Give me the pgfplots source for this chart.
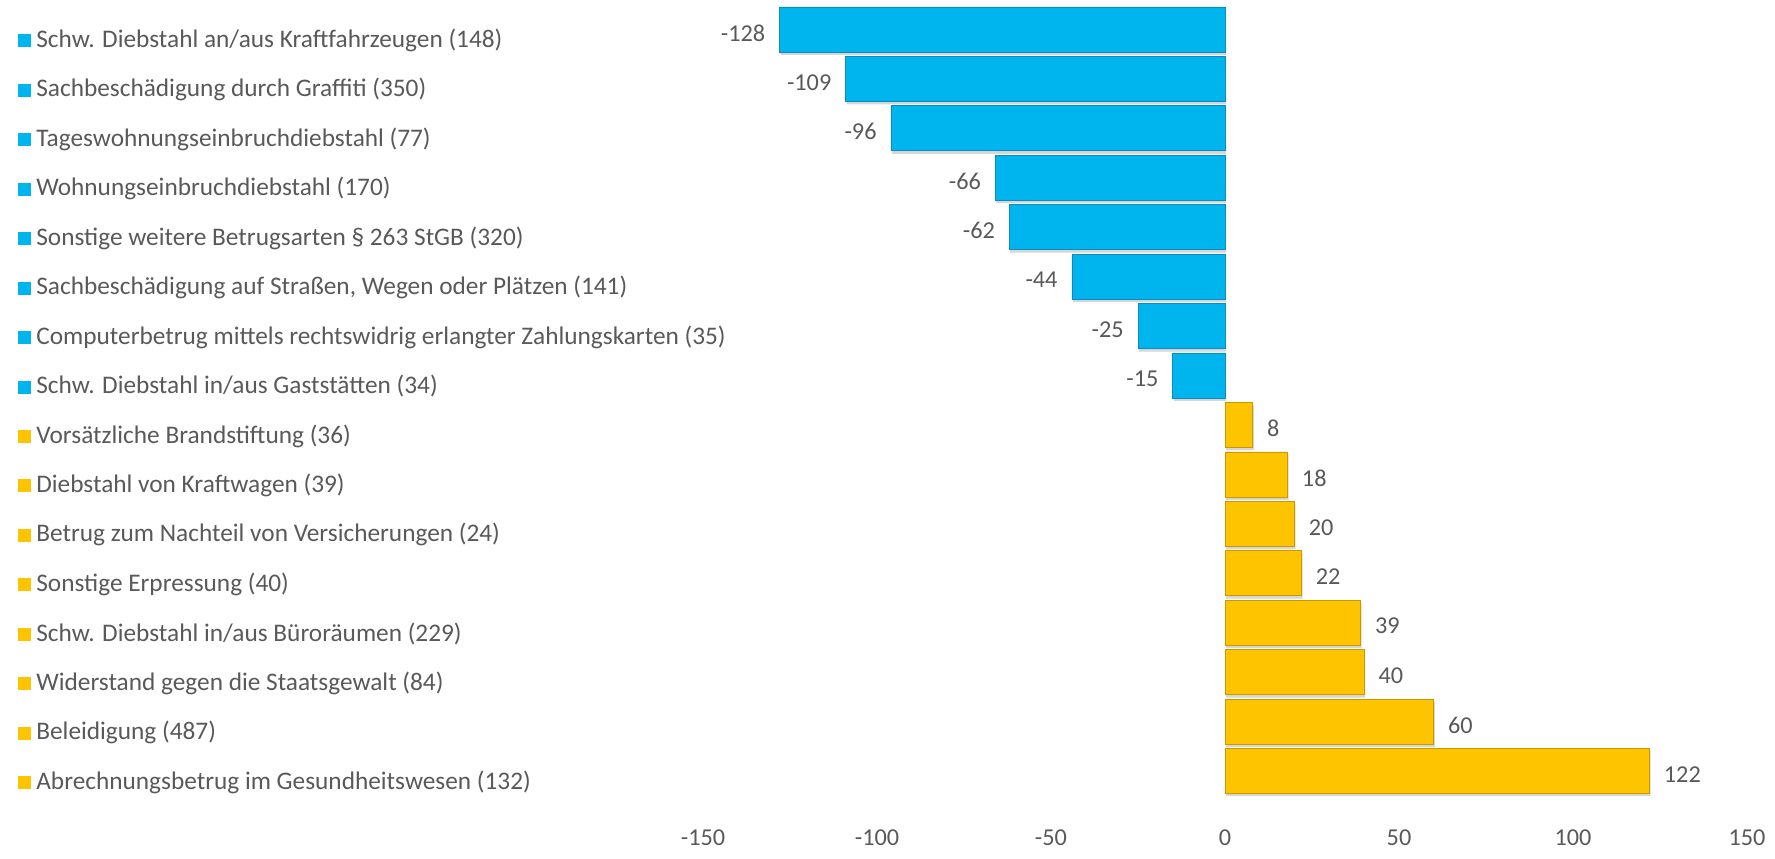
\documentclass[border=0pt]{standalone}
\usepackage{pgfplots}
\pgfplotsset{compat=1.18}
\usepackage{fontspec}
\setmainfont{Carlito}

\definecolor{barblue}{HTML}{00B4EE}
\definecolor{bluedark}{HTML}{0A8CC0}
\definecolor{baryellow}{HTML}{FFC400}
\definecolor{yellowdark}{HTML}{C89A00}
\definecolor{txt}{HTML}{595959}

\newcommand{\sq}[1]{\textcolor{#1}{\rule{2.6mm}{2.6mm}}\hspace{1mm}}

\begin{document}
\begin{tikzpicture}
\path[use as bounding box] (0,0) rectangle (355mm,171.8mm);
\begin{axis}[
    at={(140.6mm,12.66mm)}, anchor=south west,
    scale only axis,
    width=208.8mm, height=158.2mm,
    xmin=-150, xmax=150,
    ymin=0.5, ymax=16.5,
    y dir=reverse,
    xbar, bar width=9mm,
    axis line style={draw=none},
    major tick length=0pt,
    xtick={-150,-100,-50,0,50,100,150},
    ytick={1,...,16},
    yticklabels={
        {\sq{barblue}Schw. Diebstahl an/aus Kraftfahrzeugen (148)},
        {\sq{barblue}Sachbeschädigung durch Graffiti (350)},
        {\sq{barblue}Tageswohnungseinbruchdiebstahl (77)},
        {\sq{barblue}Wohnungseinbruchdiebstahl (170)},
        {\sq{barblue}Sonstige weitere Betrugsarten § 263 StGB (320)},
        {\sq{barblue}Sachbeschädigung auf Straßen, Wegen oder Plätzen (141)},
        {\sq{barblue}Computerbetrug mittels rechtswidrig erlangter Zahlungskarten (35)},
        {\sq{barblue}Schw. Diebstahl in/aus Gaststätten (34)},
        {\sq{baryellow}Vorsätzliche Brandstiftung (36)},
        {\sq{baryellow}Diebstahl von Kraftwagen (39)},
        {\sq{baryellow}Betrug zum Nachteil von Versicherungen (24)},
        {\sq{baryellow}Sonstige Erpressung (40)},
        {\sq{baryellow}Schw. Diebstahl in/aus Büroräumen (229)},
        {\sq{baryellow}Widerstand gegen die Staatsgewalt (84)},
        {\sq{baryellow}Beleidigung (487)},
        {\sq{baryellow}Abrechnungsbetrug im Gesundheitswesen (132)}
    },
    yticklabel style={anchor=west, inner sep=0pt, xshift=-137mm, yshift=-2.2mm,
        font=\fontsize{14.4}{16}\selectfont, text=txt},
    xticklabel style={anchor=center, yshift=-8.46mm,
        font=\fontsize{13.8}{16}\selectfont, text=txt},
    /pgf/number format/assume math mode=true,
    nodes near coords,
    point meta=x,
    every node near coord/.append style={font=\fontsize{13.8}{16}\selectfont,
        text=txt, inner sep=0pt, yshift=-0.7mm},
    shadowed/.style={preaction={draw=none, fill=black!16,
        transform canvas={xshift=0.2mm, yshift=-0.6mm}}},
]
\addplot[shadowed, fill=barblue, draw=bluedark, bar shift=0pt,
    every node near coord/.append style={anchor=east, xshift=-2.8mm}]
    coordinates {(-128,1) (-109,2) (-96,3) (-66,4) (-62,5) (-44,6) (-25,7) (-15,8)};
\addplot[shadowed, fill=baryellow, draw=yellowdark, bar shift=0pt,
    every node near coord/.append style={anchor=west, xshift=2.8mm}]
    coordinates {(8,9) (18,10) (20,11) (22,12) (39,13) (40,14) (60,15) (122,16)};
\end{axis}
\end{tikzpicture}
\end{document}
